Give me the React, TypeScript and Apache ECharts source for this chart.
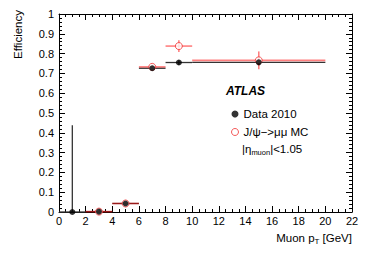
import React, { useEffect, useRef } from "react";
import * as echarts from "echarts";

// Data 2010
const dataX = [1, 3, 5, 7, 9, 15];
const dataXLow = [0, 2, 4, 6, 8, 10];
const dataXHigh = [2, 4, 6, 8, 10, 20];
const dataEff = [0, 0.002, 0.043, 0.726, 0.755, 0.756];
const dataErrDown = [0, 0.002, 0.005, 0.008, 0.012, 0.015];
const dataErrUp = [0.438, 0.004, 0.005, 0.008, 0.012, 0.015];

// J/psi -> mumu MC
const mcX = [3, 5, 7, 9, 15];
const mcXLow = [2, 4, 6, 8, 10];
const mcXHigh = [4, 6, 8, 10, 20];
const mcEff = [0.002, 0.043, 0.733, 0.838, 0.766];
const mcErr = [0.003, 0.005, 0.012, 0.03, 0.045];

const xTicks = [0, 2, 4, 6, 8, 10, 12, 14, 16, 18, 20, 22];
const yTicks = [0, 0.1, 0.2, 0.3, 0.4, 0.5, 0.6, 0.7, 0.8, 0.9, 1];

const FONT = "Liberation Sans, Arial, Helvetica, sans-serif";

export default function App() {
  const ref = useRef<HTMLDivElement>(null);
  useEffect(() => {
    if (!ref.current) return;
    const chart = echarts.init(ref.current, undefined, { renderer: "svg" });

    const dataRows = dataX.map((x, i) => [
      x,
      dataEff[i],
      dataXLow[i],
      dataXHigh[i],
      dataEff[i] - dataErrDown[i],
      dataEff[i] + dataErrUp[i],
    ]);
    const mcRows = mcX.map((x, i) => [
      x,
      mcEff[i],
      mcXLow[i],
      mcXHigh[i],
      mcEff[i] - mcErr[i],
      mcEff[i] + mcErr[i],
    ]);

    const makeErr = (color: string, width: number) => (params: any, api: any) => {
      const x = api.value(0);
      const y = api.value(1);
      const p1 = api.coord([api.value(2), y]);
      const p2 = api.coord([api.value(3), y]);
      const p3 = api.coord([x, api.value(4)]);
      const p4 = api.coord([x, api.value(5)]);
      return {
        type: "group",
        children: [
          {
            type: "line",
            shape: { x1: p1[0], y1: p1[1], x2: p2[0], y2: p2[1] },
            style: { stroke: color, lineWidth: width },
          },
          {
            type: "line",
            shape: { x1: p3[0], y1: p3[1], x2: p4[0], y2: p4[1] },
            style: { stroke: color, lineWidth: width },
          },
        ],
      };
    };

    const axisCommon = {
      axisLine: { show: true, onZero: false, lineStyle: { color: "#000", width: 1 } },
      splitLine: { show: false },
    };

    chart.setOption({
      animation: false,
      grid: { left: 59, right: 22, top: 14, bottom: 41, containLabel: false },
      xAxis: [
        {
          type: "value",
          min: xTicks[0],
          max: xTicks[xTicks.length - 1],
          interval: 2,
          position: "bottom",
          ...axisCommon,
          axisTick: { show: true, inside: true, length: 6, lineStyle: { color: "#000" } },
          minorTick: { show: true, splitNumber: 4, length: 3, lineStyle: { color: "#000" } },
          axisLabel: { show: true, margin: 3, fontSize: 11, color: "#000", fontFamily: FONT },
        },
        {
          type: "value",
          min: xTicks[0],
          max: xTicks[xTicks.length - 1],
          interval: 2,
          position: "top",
          ...axisCommon,
          axisTick: { show: true, inside: true, length: 6, lineStyle: { color: "#000" } },
          minorTick: { show: true, splitNumber: 4, length: 3, lineStyle: { color: "#000" } },
          axisLabel: { show: false },
        },
      ],
      yAxis: [
        {
          type: "value",
          min: yTicks[0],
          max: yTicks[yTicks.length - 1],
          interval: 0.1,
          position: "left",
          ...axisCommon,
          axisTick: { show: true, inside: true, length: 6, lineStyle: { color: "#000" } },
          minorTick: { show: true, splitNumber: 5, length: 3, lineStyle: { color: "#000" } },
          axisLabel: {
            show: true,
            margin: 5,
            fontSize: 11,
            color: "#000",
            fontFamily: FONT,
            formatter: (v: number) => (v === 0 ? "0" : v === 1 ? "1" : v.toFixed(1)),
          },
        },
        {
          type: "value",
          min: yTicks[0],
          max: yTicks[yTicks.length - 1],
          interval: 0.1,
          position: "right",
          ...axisCommon,
          axisTick: { show: true, inside: true, length: 6, lineStyle: { color: "#000" } },
          minorTick: { show: true, splitNumber: 5, length: 3, lineStyle: { color: "#000" } },
          axisLabel: { show: false },
        },
      ],
      legend: {
        show: true,
        orient: "vertical",
        left: 231,
        top: 107,
        padding: 0,
        itemWidth: 7,
        itemHeight: 7,
        itemGap: 4,
        selectedMode: false,
        textStyle: { fontSize: 11.5, lineHeight: 14, color: "#000", fontFamily: FONT },
        data: [
          { name: "Data 2010", icon: "circle", itemStyle: { color: "#000" } },
          {
            name: "J/ψ−>μμ MC",
            icon: "circle",
            itemStyle: { color: "#fff", borderColor: "#f03030", borderWidth: 1 },
          },
        ],
      },
      graphic: [
        {
          type: "text",
          x: 18,
          y: 10,
          rotation: Math.PI / 2,
          style: {
            text: "Efficiency",
            align: "right",
            verticalAlign: "middle",
            fontSize: 11.5,
            fontFamily: FONT,
            fill: "#000",
          },
        },
        {
          type: "text",
          x: 352,
          y: 238,
          style: {
            text: "Muon p{sub|T} [GeV]",
            align: "right",
            verticalAlign: "middle",
            fontSize: 11.5,
            fontFamily: FONT,
            fill: "#000",
            rich: {
              sub: { fontSize: 8, fontFamily: FONT, fill: "#000", padding: [6, 0, 0, 0] },
            },
          },
        },
        {
          type: "text",
          x: 226,
          y: 91,
          style: {
            text: "ATLAS",
            align: "left",
            verticalAlign: "middle",
            fontSize: 12,
            fontWeight: "bold",
            fontStyle: "italic",
            fontFamily: FONT,
            fill: "#000",
          },
        },
        {
          type: "text",
          x: 242,
          y: 149,
          style: {
            text: "|η{sub|muon}|<1.05",
            align: "left",
            verticalAlign: "middle",
            fontSize: 11.5,
            fontFamily: FONT,
            fill: "#000",
            rich: {
              sub: { fontSize: 7.5, fontFamily: FONT, fill: "#000", padding: [6, 0, 0, 0] },
            },
          },
        },
      ],
      series: [
        {
          type: "custom",
          name: "dataErr",
          xAxisIndex: 0,
          yAxisIndex: 0,
          renderItem: makeErr("#333", 1.3),
          data: dataRows,
          encode: { x: 0, y: 1 },
          clip: false,
          silent: true,
          z: 2,
        },
        {
          type: "custom",
          name: "mcErr",
          xAxisIndex: 0,
          yAxisIndex: 0,
          renderItem: makeErr("rgba(255,0,0,0.5)", 1.6),
          data: mcRows,
          encode: { x: 0, y: 1 },
          clip: false,
          silent: true,
          z: 3,
        },
        {
          type: "scatter",
          name: "J/ψ−>μμ MC",
          xAxisIndex: 0,
          yAxisIndex: 0,
          symbol: "circle",
          symbolSize: 7,
          itemStyle: { color: "#fff", borderColor: "#f03030", borderWidth: 1 },
          data: mcX.map((x, i) => [x, mcEff[i]]),
          z: 4,
        },
        {
          type: "scatter",
          name: "Data 2010",
          xAxisIndex: 0,
          yAxisIndex: 0,
          symbol: "circle",
          symbolSize: 6,
          itemStyle: { color: "#000" },
          data: dataX.map((x, i) => [x, dataEff[i]]),
          z: 5,
        },
      ],
    });
    return () => chart.dispose();
  }, []);

  return (
    <div
      ref={ref}
      style={{ position: "fixed", left: 0, top: 0, width: 374, height: 253, background: "#fff" }}
    />
  );
}
